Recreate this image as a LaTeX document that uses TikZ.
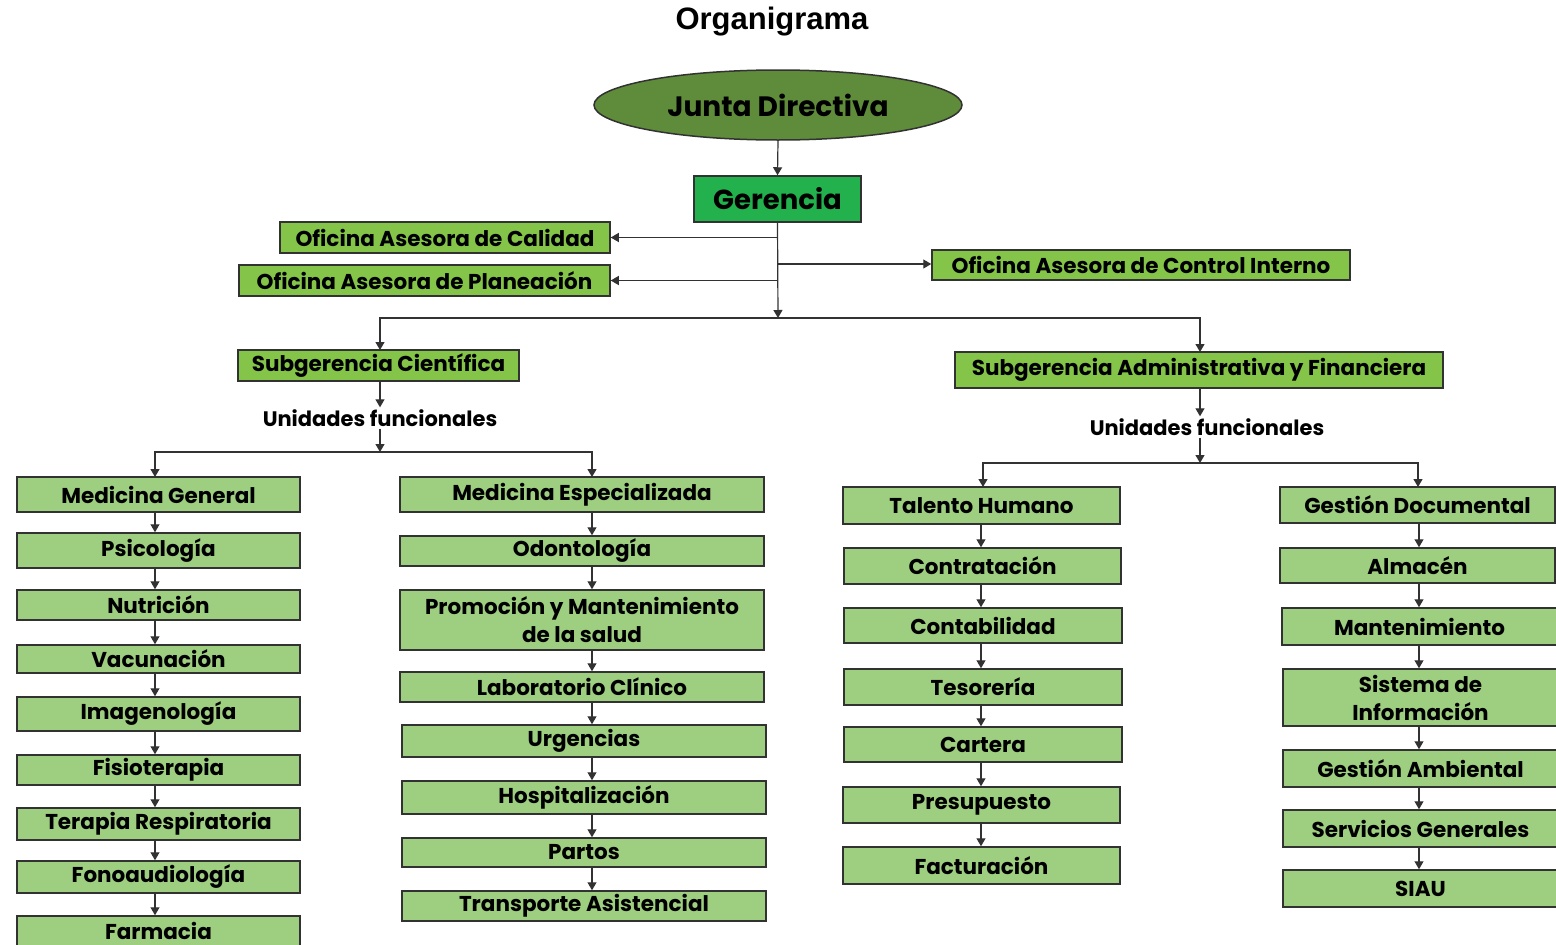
\documentclass[tikz,border=0pt]{standalone}
\usepackage{fontspec}
\setmainfont{Poppins}
\newfontfamily\titlefont{Liberation Sans}
\usetikzlibrary{arrows.meta,shapes.geometric}
\definecolor{olive}{RGB}{95,140,58}
\definecolor{gergreen}{RGB}{34,177,76}
\definecolor{lime}{RGB}{132,196,72}
\definecolor{unitgreen}{RGB}{158,206,128}
\definecolor{edge}{RGB}{50,50,50}
\tikzset{
  base/.style={draw=edge, line width=1.5pt, inner sep=0pt, text=black, align=center, font=\bfseries\fontsize{21.5}{28}\selectfont},
  ubox/.style={base, fill=unitgreen},
  obox/.style={base, fill=lime},
  arr/.style={draw=edge, line width=1.2pt, -{Triangle[length=8pt,width=9pt]}},
  lbl/.style={text=black, font=\bfseries\fontsize{21}{24}\selectfont, inner sep=2pt}
}
\newcommand\mkbox[7]{%
  \pgfmathsetmacro\cx{(#3+#5)/2}\pgfmathsetmacro\cy{(#4+#6)/2}%
  \pgfmathsetmacro\ww{#5-#3}\pgfmathsetmacro\hh{#6-#4}%
  \node[#1, minimum width=\ww pt, minimum height=\hh pt] (#2) at (\cx,\cy) {#7};}
\begin{document}
\begin{tikzpicture}[x=1pt,y=-1pt]
\useasboundingbox (0,0) rectangle (1556,945);
\node (title) at (772,22) {\titlefont\bfseries\fontsize{31}{33}\selectfont Organigrama};
\node[ellipse, draw=edge, line width=1.5pt, fill=olive, minimum width=368pt, minimum height=70pt, inner sep=0pt, font=\bfseries\fontsize{28}{32}\selectfont] (jd) at (778,105) {Junta Directiva};
\mkbox{base,fill=gergreen,font=\bfseries\fontsize{27.5}{30}\selectfont}{ger}{694}{176}{861}{222}{Gerencia}
\mkbox{obox}{cal}{280}{222}{610}{253}{Oficina Asesora de Calidad}
\mkbox{obox}{pla}{239}{265}{610}{296}{Oficina Asesora de Planeación}
\mkbox{obox}{ci}{932}{250}{1350}{280}{Oficina Asesora de Control Interno}
\mkbox{obox}{sc}{238}{350}{519}{381}{Subgerencia Científica}
\mkbox{obox}{sa}{955}{352}{1443}{388}{Subgerencia Administrativa y Financiera}
\node[lbl] (uf1) at (380,418) {Unidades funcionales};
\node[lbl] (uf2) at (1207,427) {Unidades funcionales};
% column 1
\mkbox{ubox}{mg}{17}{477}{300}{512}{Medicina General}
\mkbox{ubox}{psi}{17}{533}{300}{568}{Psicología}
\mkbox{ubox}{nut}{17}{590}{300}{620}{Nutrición}
\mkbox{ubox}{vac}{17}{645}{300}{673}{Vacunación}
\mkbox{ubox}{ima}{17}{697}{300}{731}{Imagenología}
\mkbox{ubox}{fis}{17}{755}{300}{785}{Fisioterapia}
\mkbox{ubox}{ter}{17}{808}{300}{840}{Terapia Respiratoria}
\mkbox{ubox}{fon}{17}{861}{300}{893}{Fonoaudiología}
\mkbox{ubox}{far}{17}{916}{300}{946}{Farmacia}
% column 2
\mkbox{ubox}{me}{400}{477}{764}{512}{Medicina Especializada}
\mkbox{ubox}{odo}{400}{536}{764}{566}{Odontología}
\mkbox{ubox}{pro}{400}{590}{764}{650}{Promoción y Mantenimiento\\de la salud}
\mkbox{ubox}{lab}{400}{672}{764}{702}{Laboratorio Clínico}
\mkbox{ubox}{urg}{402}{725}{766}{757}{Urgencias}
\mkbox{ubox}{hos}{402}{781}{766}{814}{Hospitalización}
\mkbox{ubox}{par}{402}{838}{766}{867}{Partos}
\mkbox{ubox}{tra}{402}{891}{766}{921}{Transporte Asistencial}
% column 3
\mkbox{ubox}{th}{843}{487}{1120}{524}{Talento Humano}
\mkbox{ubox}{con}{844}{548}{1121}{584}{Contratación}
\mkbox{ubox}{cnt}{844}{608}{1122}{643}{Contabilidad}
\mkbox{ubox}{tes}{844}{669}{1122}{705}{Tesorería}
\mkbox{ubox}{car}{844}{727}{1122}{762}{Cartera}
\mkbox{ubox}{pre}{843}{787}{1120}{823}{Presupuesto}
\mkbox{ubox}{fac}{843}{847}{1120}{884}{Facturación}
% column 4
\mkbox{ubox}{gd}{1280}{487}{1555}{523}{Gestión Documental}
\mkbox{ubox}{alm}{1280}{548}{1555}{583}{Almacén}
\mkbox{ubox}{man}{1282}{608}{1557}{645}{Mantenimiento}
\mkbox{ubox}{si}{1283}{669}{1558}{726}{Sistema de\\Información}
\mkbox{ubox}{ga}{1283}{750}{1558}{787}{Gestión Ambiental}
\mkbox{ubox}{sg}{1283}{810}{1558}{847}{Servicios Generales}
\mkbox{ubox}{siau}{1283}{870}{1558}{907}{SIAU}
% connectors top
\coordinate (hub) at (778,318);
\draw[arr] (jd.south) -- (ger.north);
\draw[arr] (ger.south) -- (hub);
\draw[arr] (ger.south |- cal.east) -- (cal.east);
\draw[arr] (ger.south |- pla.east) -- (pla.east);
\draw[arr] (ger.south |- 0,264) -- (ci.west |- 0,264);
\draw[arr] (hub) -| (380,350);
\draw[arr] (hub) -| (1200,352);
% left side
\coordinate (b1) at (380,452);
\draw[arr] (sc.south -| 380,0) -- (uf1.north -| 380,0);
\draw[arr] (uf1.south -| 380,0) -- (b1);
\draw[arr] (b1) -| (155,477);
\draw[arr] (b1) -| (592,477);
% right side
\coordinate (b2) at (1200,463);
\draw[arr] (sa.south -| 1200,0) -- (uf2.north -| 1200,0);
\draw[arr] (uf2.south -| 1200,0) -- (b2);
\draw[arr] (b2) -| (983,487);
\draw[arr] (b2) -| (1418,487);
% column chains
\foreach \a/\b in {mg/psi,psi/nut,nut/vac,vac/ima,ima/fis,fis/ter,ter/fon,fon/far}
  \draw[arr] (\a.south -| 155,0) -- (\b.north -| 155,0);
\foreach \a/\b in {me/odo,odo/pro,pro/lab,lab/urg,urg/hos,hos/par,par/tra}
  \draw[arr] (\a.south -| 592,0) -- (\b.north -| 592,0);
\foreach \a/\b in {th/con,con/cnt,cnt/tes,tes/car,car/pre,pre/fac}
  \draw[arr] (\a.south -| 981,0) -- (\b.north -| 981,0);
\foreach \a/\b in {gd/alm,alm/man,man/si,si/ga,ga/sg,sg/siau}
  \draw[arr] (\a.south -| 1419,0) -- (\b.north -| 1419,0);
\end{tikzpicture}
\end{document}
